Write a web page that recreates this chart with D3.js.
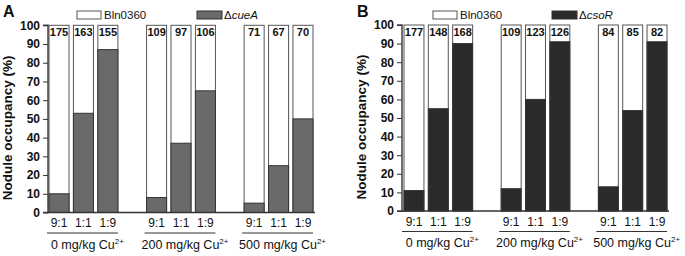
<!DOCTYPE html>
<html>
<head>
<meta charset="utf-8">
<script src="https://cdn.jsdelivr.net/npm/d3@7"></script>
<style>
  body { margin: 0; background: #fff; }
  svg { font-family: Arial, "Liberation Sans", sans-serif; }
</style>
</head>
<body>
<svg id="chart" width="685" height="256"></svg>
<script>
const groups = ["0", "200", "500"];
const ratios = ["9:1", "1:1", "1:9"];
const yTicks = [0, 10, 20, 30, 40, 50, 60, 70, 80, 90, 100];

// % occupancy by the mutant strain, per group then ratio
const cueAValues = [10, 53, 87, 8, 37, 65, 5, 25, 50];
const cueACounts = [175, 163, 155, 109, 97, 106, 71, 67, 70];
const csoRValues = [11, 55, 90, 12, 60, 91, 13, 54, 91];
const csoRCounts = [177, 148, 168, 109, 123, 126, 84, 85, 82];

const svg = d3.select("#chart");

function drawPanel(opts) {
  const g = svg.append("g");
  const x = d3.scaleBand().domain(groups).range(opts.xRange).paddingInner(0.294);
  const xi = d3.scaleBand().domain(ratios).range([0, x.bandwidth()]).paddingInner(0.18);
  const y = d3.scaleLinear().domain([0, 100]).range(opts.yRange);

  const rows = [];
  groups.forEach((grp, gi) => ratios.forEach((r, ri) => {
    const k = gi * 3 + ri;
    rows.push({ grp, r, v: opts.values[k], n: opts.counts[k] });
  }));

  // white background bars (wild type)
  g.selectAll(".wt").data(rows).join("rect")
    .attr("x", d => x(d.grp) + xi(d.r))
    .attr("y", y(100))
    .attr("width", xi.bandwidth())
    .attr("height", y(0) - y(100))
    .attr("fill", "#fff")
    .attr("stroke", "#555")
    .attr("stroke-width", 1);

  g.selectAll(".mut").data(rows).join("rect")
    .attr("x", d => x(d.grp) + xi(d.r))
    .attr("y", d => y(d.v))
    .attr("width", xi.bandwidth())
    .attr("height", d => y(0) - y(d.v))
    .attr("fill", opts.color)
    .attr("stroke", "#333")
    .attr("stroke-width", 1);

  g.selectAll(".cnt").data(rows).join("text")
    .attr("x", d => x(d.grp) + xi(d.r) + xi.bandwidth() / 2)
    .attr("y", y(100) + 11)
    .attr("text-anchor", "middle")
    .attr("font-size", 11)
    .attr("font-weight", "bold")
    .attr("fill", "#111")
    .text(d => d.n);

  // y axis
  const yAxis = d3.axisLeft(y).tickValues(yTicks).tickSize(5).tickPadding(3);
  const ya = g.append("g").attr("transform", `translate(${opts.axisX},0)`).call(yAxis);
  ya.select(".domain").attr("stroke", "#444").attr("stroke-width", 1.5).attr("d", `M-5,${y(100)}H0V${y(0)}H-5`);
  ya.selectAll(".tick line").attr("stroke", "#333");
  ya.selectAll("text").attr("font-size", 12).attr("font-weight", "bold").attr("fill", "#111")
    .attr("font-family", "Arial, 'Liberation Sans', sans-serif");

  // x baseline
  g.append("line")
    .attr("x1", opts.axisX).attr("x2", opts.xRange[1] + 2)
    .attr("y1", y(0)).attr("y2", y(0))
    .attr("stroke", "#333").attr("stroke-width", 1.5);

  // ratio labels
  g.selectAll(".rl").data(rows).join("text")
    .attr("x", d => x(d.grp) + xi(d.r) + xi.bandwidth() / 2)
    .attr("y", y(0) + 14.5)
    .attr("text-anchor", "middle")
    .attr("font-size", 12)
    .attr("fill", "#111")
    .text(d => d.r);

  // group underline and labels
  g.selectAll(".gl").data(groups).join("line")
    .attr("x1", d => x(d) - 2).attr("x2", d => x(d) + x.bandwidth())
    .attr("y1", y(0) + 20.5).attr("y2", y(0) + 20.5)
    .attr("stroke", "#333").attr("stroke-width", 1);

  const gt = g.selectAll(".gt").data(groups).join("text")
    .attr("x", d => x(d) + x.bandwidth() / 2 + 4)
    .attr("y", y(0) + 36)
    .attr("text-anchor", "middle")
    .attr("font-size", 12.5)
    .attr("fill", "#111");
  gt.append("tspan").text(d => d + " mg/kg Cu");
  gt.append("tspan").attr("font-size", 8).attr("dy", -5).text("2+");

  // y title
  g.append("text")
    .attr("transform", `translate(${opts.titleX},${(y(0) + y(100)) / 2 + 9}) rotate(-90)`)
    .attr("text-anchor", "middle")
    .attr("font-size", 13.5)
    .attr("font-weight", "bold")
    .attr("fill", "#111")
    .text("Nodule occupancy (%)");

  // panel letter
  g.append("text")
    .attr("x", opts.letterX).attr("y", 17)
    .attr("font-size", 16).attr("font-weight", "bold").attr("fill", "#111")
    .text(opts.letter);

  // legend
  const lg = g.append("g");
  lg.append("rect").attr("x", opts.legX[0]).attr("y", 11).attr("width", 24).attr("height", 8)
    .attr("fill", "#fff").attr("stroke", "#555");
  lg.append("text").attr("x", opts.legX[0] + 27).attr("y", 19).attr("font-size", 11.5).attr("fill", "#111")
    .text("Bln0360");
  lg.append("rect").attr("x", opts.legX[1]).attr("y", 11).attr("width", 25).attr("height", 8)
    .attr("fill", opts.color).attr("stroke", "#333");
  const lt = lg.append("text").attr("x", opts.legX[1] + 27).attr("y", 19).attr("font-size", 11.5).attr("fill", "#111");
  lt.append("tspan").text("\u0394");
  lt.append("tspan").attr("font-style", "italic").text(opts.mutant);
}

drawPanel({
  letter: "A", letterX: 3, titleX: 12, axisX: 48,
  xRange: [49, 313], yRange: [212.5, 25.3],
  values: cueAValues, counts: cueACounts, color: "#6a6a6a", mutant: "cueA",
  legX: [77, 197]
});

drawPanel({
  letter: "B", letterX: 357, titleX: 366, axisX: 402,
  xRange: [404, 667], yRange: [211, 25],
  values: csoRValues, counts: csoRCounts, color: "#2a2a2a", mutant: "csoR",
  legX: [433, 552]
});
</script>
</body>
</html>
